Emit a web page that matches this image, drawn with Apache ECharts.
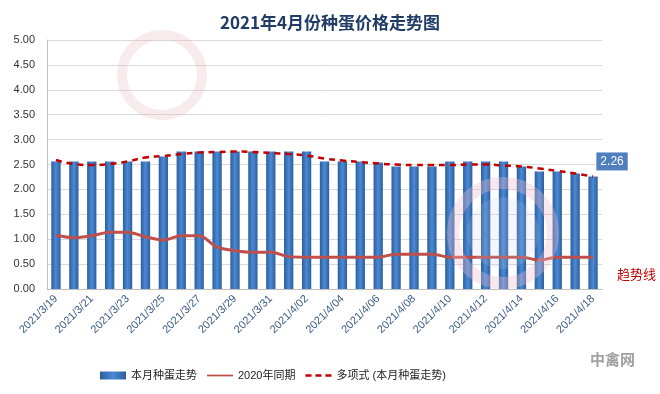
<!DOCTYPE html>
<html><head><meta charset="utf-8">
<script src="https://cdn.jsdelivr.net/npm/echarts@6/dist/echarts.min.js"></script>
<style>html,body{margin:0;padding:0;background:#fff}#c{width:660px;height:394px}</style>
</head><body><div id="c"></div>
<script>
const categories = ["2021/3/19","2021/3/20","2021/3/21","2021/3/22","2021/3/23","2021/3/24","2021/3/25","2021/3/26","2021/3/27","2021/3/28","2021/3/29","2021/3/30","2021/3/31","2021/4/01","2021/4/02","2021/4/03","2021/4/04","2021/4/05","2021/4/06","2021/4/07","2021/4/08","2021/4/09","2021/4/10","2021/4/11","2021/4/12","2021/4/13","2021/4/14","2021/4/15","2021/4/16","2021/4/17","2021/4/18"];
const current = [2.56,2.56,2.56,2.56,2.56,2.56,2.66,2.76,2.76,2.76,2.76,2.76,2.76,2.76,2.76,2.56,2.56,2.56,2.54,2.46,2.46,2.46,2.56,2.56,2.56,2.56,2.46,2.36,2.36,2.32,2.26];
const lastYear = [1.08,1.03,1.07,1.14,1.14,1.05,0.98,1.07,1.07,0.84,0.77,0.74,0.74,0.65,0.64,0.64,0.64,0.64,0.64,0.70,0.70,0.70,0.64,0.64,0.64,0.64,0.64,0.58,0.64,0.64,0.64];
const trend = [2.59,2.51,2.49,2.51,2.56,2.64,2.67,2.71,2.74,2.75,2.76,2.75,2.73,2.71,2.68,2.62,2.58,2.55,2.52,2.50,2.49,2.49,2.49,2.50,2.50,2.48,2.46,2.42,2.37,2.32,2.26];
const seriesNames = ["本月种蛋走势","2020年同期","多项式 (本月种蛋走势)"];
const yTicks = {min:0, max:5, interval:0.5};

const chart = echarts.init(document.getElementById('c'));
const barGrad = new echarts.graphic.LinearGradient(0,0,1,0,[
  {offset:0,color:'#2c5e9c'},{offset:0.5,color:'#4a8ad6'},{offset:1,color:'#2c5e9c'}]);
const lastIdx = current.length-1;
chart.setOption({
  animation:false,
  textStyle:{fontFamily:'"Liberation Sans","Noto Sans CJK SC",sans-serif'},
  title:{text:'2021年4月份种蛋价格走势图',left:'center',top:9,
    textStyle:{fontSize:17,fontWeight:'bold',color:'#1f3b66',fontFamily:'"Noto Sans CJK SC",sans-serif'}},
  grid:{left:47,right:58,top:40,bottom:105},
  legend:{top:365,left:95,itemGap:10,itemWidth:26,itemHeight:8,
    textStyle:{fontSize:11,color:'#222'},
    data:[{name:seriesNames[0],icon:'rect'},
      {name:seriesNames[1],icon:'path://M0,3h30v2h-30z'},
      {name:seriesNames[2],icon:'path://M0,3h7v2.6h-7z M11.5,3h7v2.6h-7z M23,3h7v2.6h-7z'}]},
  xAxis:{type:'category',data:categories,
    axisLine:{lineStyle:{color:'#bfbfbf'}},axisTick:{show:false},
    axisLabel:{interval:1,rotate:45,fontSize:11,color:'#3b5a86',margin:8}},
  yAxis:{type:'value',min:yTicks.min,max:yTicks.max,interval:yTicks.interval,
    axisLine:{show:true,lineStyle:{color:'#bfbfbf'}},axisTick:{show:false},
    axisLabel:{formatter:v=>v.toFixed(2),fontSize:11,color:'#333',margin:12},
    splitLine:{lineStyle:{color:'#d9d9d9'}}},
  graphic:[
    {type:'circle',shape:{cx:503,cy:233,r:50},style:{fill:'none',stroke:'rgba(235,190,205,0.35)',lineWidth:12},z:100},
    {type:'circle',shape:{cx:503,cy:233,r:36},style:{fill:'rgba(200,205,235,0.18)'},z:100},
    {type:'circle',shape:{cx:162,cy:75,r:40},style:{fill:'none',stroke:'rgba(230,190,200,0.3)',lineWidth:10},z:100},
    {type:'text',left:617,top:268,style:{text:'趋势线',fill:'#c00000',font:'13px "Noto Sans CJK SC"'}},
    {type:'text',left:590,top:352,style:{text:'中禽网',fill:'#a0a0a0',font:'bold 15px "Noto Sans CJK SC"'}}
  ],
  series:[
    {name:seriesNames[0],type:'bar',data:current.map((v,i)=>i===lastIdx?{value:v,label:{show:true}}:v),
      barCategoryGap:'48%',itemStyle:{color:barGrad},
      label:{show:false,position:'top',offset:[19,-1],formatter:p=>p.value.toFixed(2),
        backgroundColor:'#4f7fbf',color:'#fff',fontSize:12,padding:[3,4]}},
    {name:seriesNames[1],type:'line',data:lastYear,smooth:0.3,symbol:'none',
      lineStyle:{color:'#bf4f4b',width:3},itemStyle:{color:'#bf4f4b'}},
    {name:seriesNames[2],type:'line',data:trend,smooth:true,symbol:'none',
      lineStyle:{color:'#c00000',width:2.5,type:[6,5]},itemStyle:{color:'#c00000'}}
  ]
});
</script></body></html>
